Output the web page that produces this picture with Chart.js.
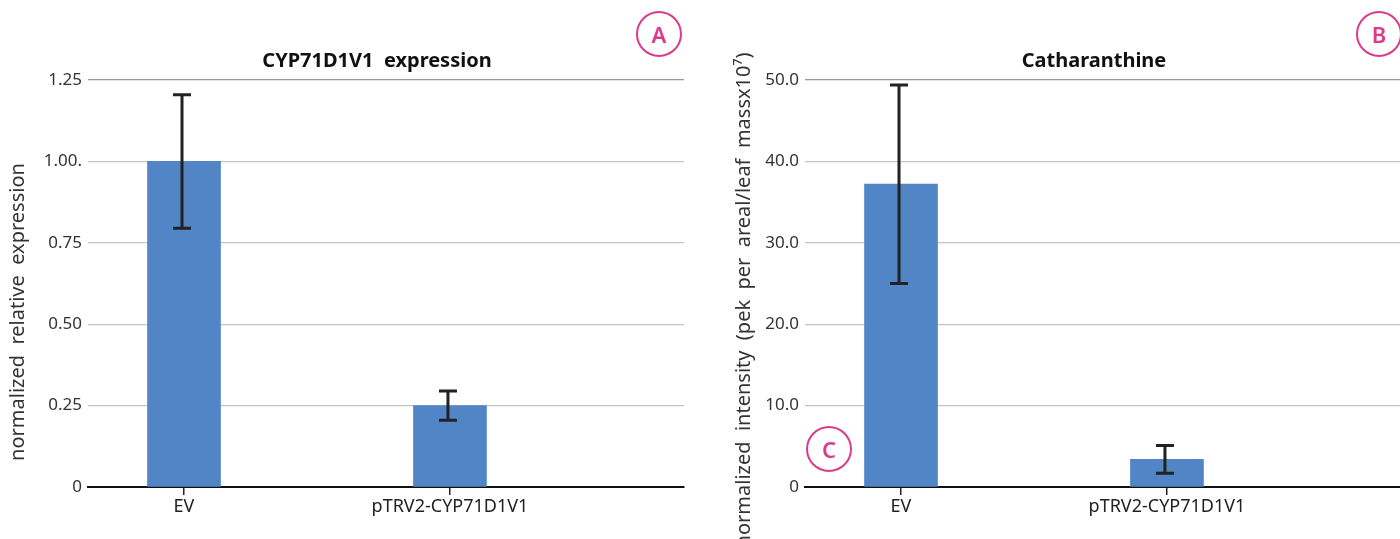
<!DOCTYPE html>
<html>
<head>
<meta charset="utf-8">
<script src="https://cdn.jsdelivr.net/npm/chart.js@4.4.0/dist/chart.umd.min.js"></script>
<style>
  html, body { margin: 0; padding: 0; background: #fff; }
  body { width: 1400px; height: 539px; position: relative; overflow: hidden; font-family: "Noto Sans", sans-serif; }
  .panel { position: absolute; top: 0; width: 700px; height: 539px; }
  .badge {
    position: absolute; width: 42px; height: 42px; border: 2.5px solid #dc3a8b; border-radius: 50%;
    color: #dc3a8b; font: 600 22px "Noto Sans", sans-serif; text-align: center; line-height: 42px; background: transparent;
  }
</style>
</head>
<body>
<div class="panel" style="left:0"><canvas id="chartA" width="700" height="539"></canvas></div>
<div class="panel" style="left:717px"><canvas id="chartB" width="700" height="539"></canvas></div>
<div class="badge" style="left:636px;top:11px">A</div>
<div class="badge" style="left:1356px;top:11px">B</div>
<div class="badge" style="left:806px;top:426px">C</div>
<script>
// 공통 카테고리
const categories = ['EV', 'pTRV2-CYP71D1V1'];

// A: 유전자 발현
const exprValues = [1.0, 0.25];
const exprErrors = [0.205, 0.045];
const exprTicks = ['0', '0.25', '0.50', '0.75', '1.00.', '1.25'];

// B: Catharanthine
const cathValues = [37.2, 3.4];
const cathErrors = [12.2, 1.7];
const cathTicks = ['0', '10.0', '20.0', '30.0', '40.0', '50.0'];

const barColor = '#5185c5';
const font = '"Noto Sans", sans-serif';

// 에러바 그리기 (원본처럼 막대 중심보다 살짝 왼쪽)
const errorBars = {
    id: 'errorBars',
    afterDatasetsDraw(chart, args, opts) {
        const ctx = chart.ctx;
        const yScale = chart.scales.y;
        const meta = chart.getDatasetMeta(0);
        ctx.save();
        ctx.strokeStyle = '#222';
        ctx.lineWidth = 3;
        meta.data.forEach((bar, i) => {
            const v = opts.values[i], e = opts.errors[i];
            const x = bar.x - 2;
            const top = yScale.getPixelForValue(v + e);
            const bottom = yScale.getPixelForValue(v - e);
            ctx.beginPath();
            ctx.moveTo(x, top); ctx.lineTo(x, bottom);
            ctx.moveTo(x - 9, top); ctx.lineTo(x + 9, top);
            ctx.moveTo(x - 9, bottom); ctx.lineTo(x + 9, bottom);
            ctx.stroke();
        });
        ctx.restore();
    }
};

// 제목 + 세로축 제목
const titles = {
    id: 'titles',
    afterDraw(chart, args, opts) {
        const ctx = chart.ctx;
        ctx.save();
        ctx.fillStyle = '#111';
        ctx.font = 'bold 20px ' + font;
        ctx.textAlign = 'center';
        ctx.textBaseline = 'middle';
        ctx.fillText(opts.title, 377, 61);
        ctx.translate(opts.yTitleX, opts.yTitleY);
        ctx.rotate(-Math.PI / 2);
        ctx.fillStyle = '#333';
        ctx.font = '20px ' + font;
        ctx.fillText(opts.yTitle, 0, 0);
        ctx.restore();
    }
};

function makeChart(id, values, errors, tickLabels, yMax, step, title, yTitle, yTitleX, yTitleY) {
    const points = categories.map((c, i) => ({ x: i, y: values[i] }));
    return new Chart(document.getElementById(id), {
        type: 'bar',
        data: {
            datasets: [{
                data: points,
                backgroundColor: barColor,
                barThickness: 73
            }]
        },
        options: {
            responsive: false,
            animation: false,
            layout: { padding: { left: 0, right: 16, top: 80, bottom: 0 } },
            plugins: {
                legend: { display: false },
                tooltip: { enabled: false },
                errorBars: { values: values, errors: errors },
                titles: { title: title, yTitle: yTitle, yTitleX: yTitleX, yTitleY: yTitleY }
            },
            scales: {
                x: {
                    type: 'linear',
                    min: -0.361,
                    max: 1.88,
                    offset: false,
                    afterBuildTicks: s => { s.ticks = categories.map((c, i) => ({ value: i })); },
                    afterFit: s => { s.height = 52; },
                    grid: { offset: false, drawOnChartArea: false, drawTicks: true, tickLength: 8, color: '#222', lineWidth: 1.5 },
                    border: { display: true, color: '#111', width: 2 },
                    ticks: {
                        callback: (v) => categories[v],
                        color: '#222',
                        font: { family: font, size: 18 },
                        padding: 1,
                        maxRotation: 0,
                        autoSkip: false
                    }
                },
                y: {
                    min: 0,
                    max: yMax,
                    afterFit: s => { s.width = 88; },
                    grid: { drawTicks: false, color: ctx => ctx.index === tickLabels.length - 1 ? '#999' : '#c4c4c4', lineWidth: 1.2 },
                    border: { display: false },
                    ticks: {
                        stepSize: step,
                        callback: (v, i) => tickLabels[i],
                        color: '#333',
                        font: { family: font, size: 17 },
                        padding: 6
                    }
                }
            }
        },
        plugins: [errorBars, titles]
    });
}

makeChart('chartA', exprValues, exprErrors, exprTicks, 1.25, 0.25,
    'CYP71D1V1  expression', 'normalized  relative  expression', 18, 312);
makeChart('chartB', cathValues, cathErrors, cathTicks, 50, 10,
    'Catharanthine', 'normalized  intensity  (pek  per  areal/leaf  massx10\u2077)', 27, 300);
</script>
</body>
</html>
